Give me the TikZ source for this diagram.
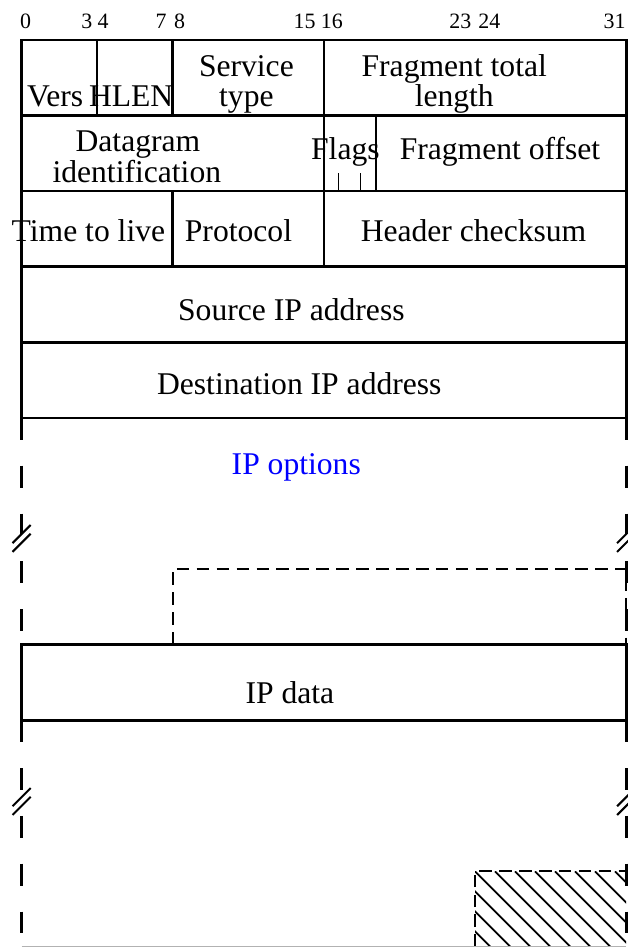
\documentclass[tikz,border=0pt]{standalone}
\usepackage{fontspec}
\setmainfont{Liberation Serif}
\begin{document}
\begin{tikzpicture}
  \tikzstyle{frame} = [line width=2pt]
  \tikzstyle{side} = [line width=2pt, dash pattern=on 16.5pt off 19.5pt]
  \tikzstyle{pad} = [line width=1.5pt, dash pattern=on 9.5pt off 5.5pt]
  \tikzstyle{lbl} = [inner sep=0pt, anchor=base, font=\fontsize{23.8}{28}\selectfont]
  \tikzstyle{num} = [inner sep=0pt, anchor=base, font=\fontsize{16.5}{18}\selectfont]
  \useasboundingbox (-0.57,1.058) rectangle (16.04,-24);

  % bit numbers
  \foreach \n/\x in {0/0.11,3/1.73,4/2.16,7/3.69,8/4.18,15/7.49,16/8.21,23/11.61,24/12.38,31/15.69}
    \node[num] (bit\n) at (\x,0.317) {\n};

  % fixed header
  \draw[frame] (0,-10) rectangle (16,0);
  \foreach \y in {-2,-4,-6,-8} \draw[frame] (0,\y) -- (16,\y);
  \draw[frame] (2,0) -- (2,-2) (4,0) -- (4,-2) (8,0) -- (8,-6) (4,-4) -- (4,-6) (9.38,-2) -- (9.38,-4);
  \draw[line width=1.3pt] (8.385,-3.52) -- (8.385,-4) (8.967,-3.52) -- (8.967,-4);

  \node[lbl] (vers) at (0.89,-1.759) {Vers};
  \node[lbl] (hlen) at (2.90,-1.759) {HLEN};
  \node[lbl] (serv) at (5.95,-0.966) {Service};
  \node[lbl] (servb) at (5.95,-1.759) {type};
  \node[lbl] (tlen) at (11.45,-0.966) {Fragment total};
  \node[lbl] (tlenb) at (11.45,-1.759) {length};
  \node[lbl] (ident) at (3.08,-2.96) {Datagram};
  \node[lbl] (identb) at (3.05,-3.78) {identification};
  \node[lbl] (flags) at (8.57,-3.17) {Flags};
  \node[lbl] (offs) at (12.66,-3.17) {Fragment offset};
  \node[lbl] (ttl) at (1.77,-5.34) {Time to live};
  \node[lbl] (proto) at (5.74,-5.34) {Protocol};
  \node[lbl] (csum) at (11.96,-5.34) {Header checksum};
  \node[lbl] (src) at (7.14,-7.41) {Source IP address};
  \node[lbl] (dst) at (7.35,-9.39) {Destination IP address};

  % options
  \draw[side] (0,-10) -- (0,-16);
  \draw[side] (16,-10) -- (16,-16);
  \draw[pad] (4,-16) -- (4,-14) -- (16,-14) -- (16,-16);
  \node[lbl,text=blue] (opts) at (7.27,-11.51) {IP options};

  % data
  \draw[frame] (0,-16) rectangle (16,-18);
  \node[lbl] (data) at (7.10,-17.56) {IP data};
  \draw[side] (0,-18) -- (0,-24);
  \draw[side] (16,-18) -- (16,-24);
  \begin{scope}
    \clip (12,-22) rectangle (16,-24);
    \foreach \k in {-4,...,8}
      \draw[line width=1.3pt] (12+\k*0.529,-22) -- ++(2.2,-2.2);
  \end{scope}
  \draw[pad] (12,-24) -- (12,-22) -- (16,-22);
  \draw[gray!60, line width=1pt] (0,-24) -- (16,-24);

  % breaks
  \foreach \bx/\by in {0/-13.19,16/-13.19,0/-20.15,16/-20.15} {
    \fill[white] (\bx-0.24,\by-0.356) -- (\bx+0.24,\by+0.124) -- (\bx+0.24,\by+0.356) -- (\bx-0.24,\by-0.124) -- cycle;
    \draw[line width=1.5pt] (\bx-0.24,\by-0.124) -- (\bx+0.24,\by+0.356);
    \draw[line width=1.5pt] (\bx-0.24,\by-0.356) -- (\bx+0.24,\by+0.124);
  }
\end{tikzpicture}
\end{document}
